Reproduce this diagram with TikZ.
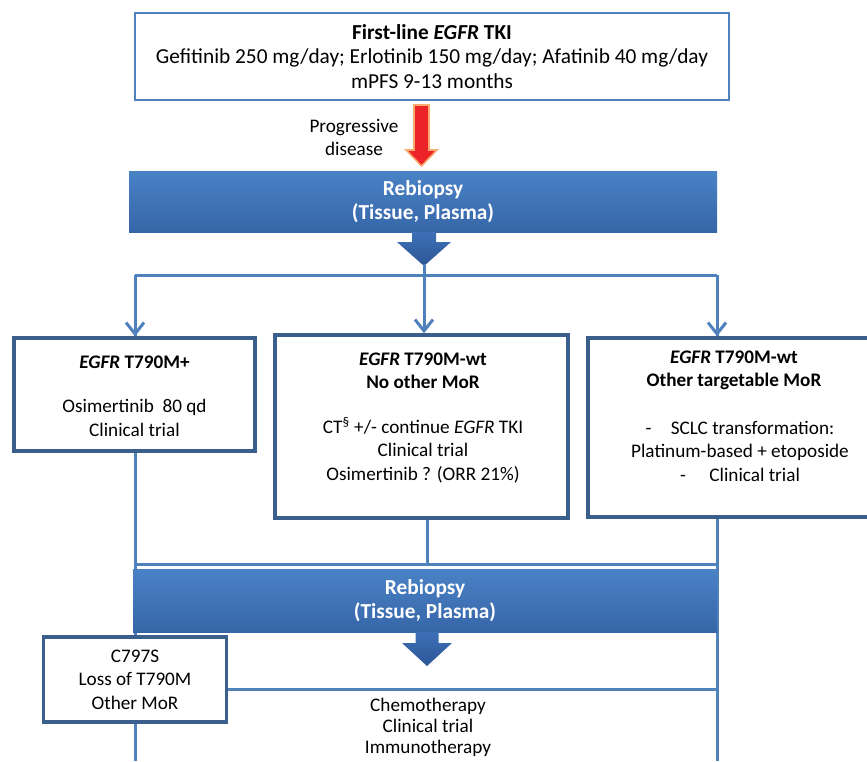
\documentclass[tikz,border=0pt]{standalone}
\usepackage{fontspec}
\setmainfont{Carlito}
\usetikzlibrary{positioning,calc,arrows.meta}
\definecolor{lineblue}{RGB}{79,129,189}
\definecolor{boxblue}{RGB}{58,95,140}
\definecolor{bantop}{RGB}{74,130,198}
\definecolor{banbot}{RGB}{54,102,168}
\definecolor{arrtop}{RGB}{62,112,182}
\definecolor{arrbot}{RGB}{44,86,150}
\definecolor{pdred}{RGB}{236,36,40}
\definecolor{pdglow}{RGB}{250,170,110}
\tikzset{>=stealth}

\begin{document}
\begin{tikzpicture}[x=0.75pt,y=-0.75pt,
  font=\fontsize{14.4}{17.6}\selectfont,
  flow/.style={draw=lineblue,line width=2.25pt},
  flowarrow/.style={flow,-{Straight Barb[length=8.5pt,width=13.5pt]}},
  tbox/.style={draw=boxblue,line width=2.6pt,fill=white,inner sep=0pt},
  banner/.style={top color=bantop,bottom color=banbot,text=white,font=\fontsize{16}{17.6}\selectfont\bfseries,align=center,inner sep=0pt},
  txt/.style={align=center,inner sep=0pt}]
\useasboundingbox (0,0) rectangle (867,761);
\clip (0,0) rectangle (867,761);

% first line treatment
\node[draw=lineblue,line width=1.6pt,fill=white,txt,font=\fontsize{16}{18.4}\selectfont,minimum width=445.5pt,minimum height=65.25pt] (first) at (432,56.5)
  {\textbf{First-line \textit{EGFR} TKI}\\Gefitinib 250 mg/day; Erlotinib 150 mg/day; Afatinib 40 mg/day\\mPFS 9-13 months};
\node[txt] (progr) at (354,137.5) {Progressive\\disease};
\draw[draw=pdglow,line width=1.2pt,fill=pdred] (414,105) -- (429,105) -- (429,150) -- (437,150) -- (421.5,166) -- (406,150) -- (414,150) -- cycle;

% first rebiopsy
\node[banner,minimum width=441pt,minimum height=45.75pt] (rebio1) at (423,201.5) {Rebiopsy\\(Tissue, Plasma)};
\shade[top color=arrtop,bottom color=arrbot] (412,232) -- (436,232) -- (436,242) -- (451,242) -- (424,266) -- (397,242) -- (412,242) -- cycle;
\coordinate (tip1) at (424,264);
\coordinate (split) at (424,275);
\coordinate (splitL) at (135,275);
\coordinate (splitR) at (717,275);
\coordinate (bottom) at (0,761);
\coordinate (midbot) at (0,518);

% lower connections
\coordinate (joinL) at (135,564);
\coordinate (join) at (427,564);
\coordinate (joinR) at (717,564);
\draw[flow] (joinL) -- (joinR);
\draw[flow] (splitL) -- (splitL |- bottom);
\draw[flow] (join) -- (join |- midbot);
\draw[flow] (splitR) -- (splitR |- bottom);

% split to the three groups
\draw[flow] (tip1) -- (split);
\draw[flow] (splitL) -- (splitR);

% three groups
\node[tbox,minimum width=180.75pt,minimum height=84.75pt] (boxA) at (134.5,394.5) {};
\node[tbox,minimum width=219.75pt,minimum height=137.25pt] (boxB) at (421.5,426.5) {};
\node[tbox,minimum width=219pt,minimum height=134.25pt] (boxC) at (734,427.5) {};
\draw[flowarrow] (splitL) -- (splitL |- boxA.north);
\draw[flowarrow] (split) -- (split |- boxB.north);
\draw[flowarrow] (splitR) -- (splitR |- boxC.north);

\node[txt,font=\fontsize{14.4}{17.6}\selectfont\bfseries] (titleA) at (134.5,362) {\textit{EGFR} T790M+};
\node[txt] (bodyA) at (134.5,418) {Osimertinib~~80 qd\\Clinical trial};
\node[txt,font=\fontsize{14.4}{17.6}\selectfont\bfseries] (titleB) at (423,370.5) {\textit{EGFR} T790M-wt\\No other MoR};
\node[txt] (bodyB) at (423,450) {CT\textsuperscript{\S} +/- continue \textit{EGFR} TKI\\Clinical trial\\Osimertinib ? (ORR 21\%)};
\node[txt,font=\fontsize{14.4}{17.6}\selectfont\bfseries] (titleC) at (734,370.5) {\textit{EGFR} T790M-wt\\Other targetable MoR};
\node[txt] (bodyC) at (740,451) {-\quad SCLC transformation:\\Platinum-based + etoposide\\-\quad\ Clinical trial};

% second rebiopsy
\node[banner,minimum width=438pt,minimum height=47.25pt] (rebio2) at (425,600.5) {Rebiopsy\\(Tissue, Plasma)};
\shade[top color=arrtop,bottom color=arrbot] (415.5,632) -- (438.5,632) -- (438.5,643) -- (452,643) -- (427,666) -- (402,643) -- (415.5,643) -- cycle;

\node[tbox,txt,minimum width=137.25pt,minimum height=63.75pt] (resist) at (135,679.5) {C797S\\Loss of T790M\\Other MoR};
\draw[flow] ([yshift=-7.2pt]resist.east) -- ([yshift=-7.2pt]resist.east -| joinR);
\node[txt,font=\fontsize{14.4}{15.75}\selectfont] (therapy) at (428,727) {Chemotherapy\\Clinical trial\\Immunotherapy};
\end{tikzpicture}
\end{document}
